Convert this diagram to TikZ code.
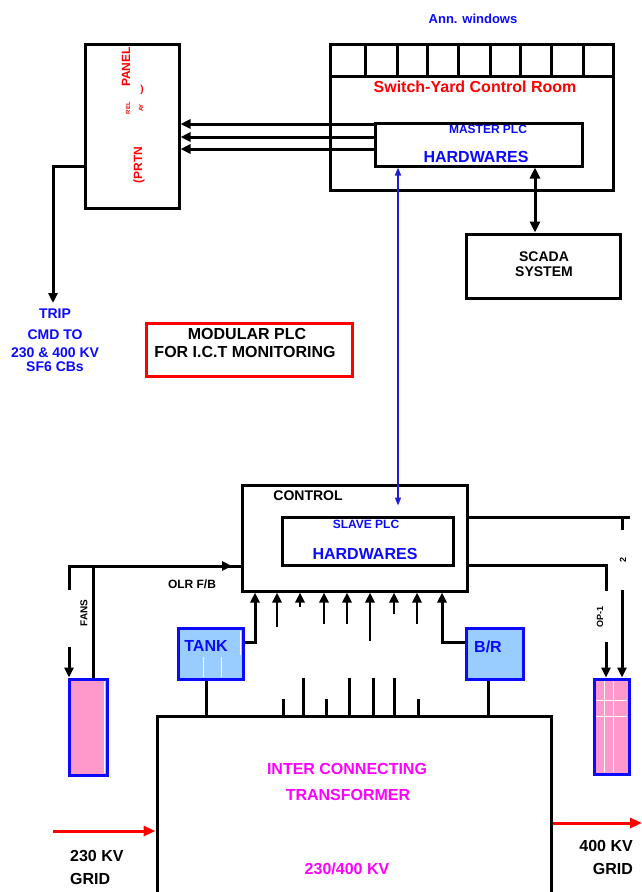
\documentclass[tikz,border=0pt]{standalone}
\usepackage{fontspec}
\setmainfont{Liberation Sans}
\usetikzlibrary{arrows.meta}
\definecolor{myred}{RGB}{255,0,0}
\definecolor{myblue}{RGB}{10,10,255}
\definecolor{mymag}{RGB}{255,0,255}
\definecolor{mypink}{RGB}{255,153,204}
\definecolor{mylblue}{RGB}{153,204,255}
\definecolor{arrblue}{RGB}{30,30,210}
\newcommand\myfs[1]{\fontsize{#1}{#1}\selectfont\bfseries}
\begin{document}
\begin{tikzpicture}[x=1pt,y=-1pt,
  box/.style={draw=black, line width=3pt, inner sep=0pt},
  bbox/.style={draw=myblue, line width=3pt, inner sep=0pt},
  wire/.style={line width=3pt},
  tip/.style={-{Triangle[length=10pt,width=9pt]}},
  dtip/.style={{Triangle[length=11pt,width=10pt]}-{Triangle[length=11pt,width=10pt]}},
  lbl/.style={inner sep=0pt},
]
\fill[white] (0,0) rectangle (642,892);
\useasboundingbox (0,0) rectangle (642,892);

\node[lbl, font=\myfs{13}, text=myblue] (ann) at (473,19) {Ann. windows};

% relay panel
\node[box, minimum width=94pt, minimum height=164pt] (panel) at (132,126) {};
\node[lbl, rotate=90, font=\myfs{12}, text=myred] (pnl) at (126,67) {PANEL};
\node[lbl, font=\myfs{10}, text=myred] (prn) at (142,90) {)};
\node[lbl, rotate=90, font=\myfs{6}, text=myred] (rel) at (128,108) {REL};
\node[lbl, rotate=90, font=\myfs{6}, text=myred] (ay) at (141,108) {AY};
\node[lbl, rotate=90, font=\myfs{12}, text=myred] (prtn) at (139,165) {(PRTN};

% switch-yard control room
\node[box, minimum width=283pt, minimum height=146pt] (sycr) at (471.5,117) {};
\draw[wire] (sycr.west |- 0,76) -- (sycr.east |- 0,76);
\foreach \x in {365,397,427,458,490,520,551,583}
  \draw[wire] (sycr.north -| \x,0) -- (\x,76);
\node[lbl, font=\myfs{16}, text=myred] (sytitle) at (475,87) {Switch-Yard Control Room};
\node[box, minimum width=207pt, minimum height=43pt] (master) at (478.5,144.5) {};
\node[lbl, font=\myfs{12}, text=myblue] (mplc) at (488,129) {MASTER PLC};
\node[lbl, font=\myfs{16}, text=myblue] (mhw) at (476,157) {HARDWARES};

\foreach \y in {124,137,149}
  \draw[wire, tip] (master.west |- 0,\y) -- (panel.east |- 0,\y);

% scada
\node[box, minimum width=154pt, minimum height=64pt] (scada) at (543,266) {};
\node[lbl, font=\myfs{14}] (sc1) at (544,257) {SCADA};
\node[lbl, font=\myfs{14}] (sc2) at (544,272) {SYSTEM};
\draw[wire, dtip] (master.south -| 535,0) -- (scada.north -| 535,0);

% trip
\coordinate (tripend) at (53,303);
\draw[wire, tip] (panel.west |- 0,166) -- (53,166) -- (tripend);
\node[lbl, font=\myfs{14}, text=myblue] (t1) at (55,314) {TRIP};
\node[lbl, font=\myfs{14}, text=myblue] (t2) at (55,335) {CMD TO};
\node[lbl, font=\myfs{14}, text=myblue] (t3) at (55,353) {230 \& 400 KV};
\node[lbl, font=\myfs{14}, text=myblue] (t4) at (55,367) {SF6 CBs};

% modular plc
\node[draw=myred, line width=3pt, inner sep=0pt, minimum width=206pt, minimum height=53pt] (modular) at (249,349.5) {};
\node[lbl, font=\myfs{16}] (m1) at (247,334) {MODULAR PLC};
\node[lbl, font=\myfs{16}] (m2) at (245,352) {FOR I.C.T MONITORING};

% control
\node[box, minimum width=225pt, minimum height=106pt] (control) at (354.5,538) {};
\node[lbl, font=\myfs{14}] (ctl) at (308,496) {CONTROL};
\node[box, minimum width=171pt, minimum height=48pt] (slave) at (367.5,541) {};
\node[lbl, font=\myfs{12}, text=myblue] (splc) at (366,524) {SLAVE PLC};
\node[lbl, font=\myfs{16}, text=myblue] (shw) at (365,554) {HARDWARES};

\draw[line width=1.5pt, arrblue, {Triangle[length=8pt,width=6pt]}-{Triangle[length=8pt,width=6pt]}]
  (master.south -| 398,0) -- ([yshift=10pt]slave.north -| 398,0);

% transformer
\node[box, minimum width=394pt, minimum height=220pt] (trafo) at (354,826) {};
\node[lbl, font=\myfs{16}, text=mymag] (tr1) at (347,769) {INTER CONNECTING};
\node[lbl, font=\myfs{16}, text=mymag] (tr2) at (348,795) {TRANSFORMER};
\node[lbl, font=\myfs{16}, text=mymag] (tr3) at (347,869) {230/400 KV};

% tank and B/R
\node[bbox, fill=mylblue, minimum width=65pt, minimum height=51pt] (tank) at (210.5,653.5) {};
\draw[white, line width=0.6pt] (203,657) -- (203,677) (221,657) -- (221,677) (240,631) -- (240,655);
\node[lbl, font=\myfs{16}, text=myblue] (tankl) at (206,646) {TANK};
\node[bbox, fill=mylblue, minimum width=57pt, minimum height=51pt] (br) at (494.5,653.5) {};
\node[lbl, font=\myfs{16}, text=myblue] (brl) at (488,647) {B/R};
\draw[wire, tip] (tank.east |- 0,642) -- (255,642) -- (control.south -| 255,0);
\draw[wire] (tank.south -| 206,0) -- (trafo.north -| 206,0);
\draw[wire, tip] (br.west |- 0,642) -- (442,642) -- (control.south -| 442,0);
\draw[wire] (br.south -| 488,0) -- (trafo.north -| 488,0);

\foreach \x/\y in {277/627,300/607,324/624,347/624,370/641,394/614,417/624}
  \draw[line width=2.5pt, tip] (\x,\y) -- (control.south -| \x,0);
\foreach \x/\y in {283/699,303/678,326/699,349/678,373/678,394/678,418/699}
  \draw[wire] (\x,\y) -- (trafo.north -| \x,0);

% left coolers
\node[bbox, fill=mypink, minimum width=38pt, minimum height=96pt] (lpink) at (88,727) {};
\draw[white, line width=0.8pt] (104.5,681) -- (104.5,773);
\draw[wire] (control.west |- 0,566) -- (69,566) -- (69,590);
\draw[wire, tip] (69,647) -- (lpink.north -| 69,0);
\node[lbl, rotate=90, font=\myfs{10}] (fans) at (84,613) {FANS};
\coordinate (olrend) at (232,566);
\draw[wire, tip] (lpink.north -| 93,0) -- (93,566) -- (olrend);
\node[lbl, font=\myfs{12}] (olr) at (192,584) {OLR F/B};

% right coolers
\node[bbox, fill=mypink, minimum width=35pt, minimum height=95pt] (rpink) at (611.5,726.5) {};
\draw[white, line width=0.8pt] (604,681) -- (604,772) (613,681) -- (613,772)
  (596,700) -- (627,700) (596,716) -- (627,716);
\draw[wire] (control.east |- 0,517) -- (630,517);
\draw[wire] (622,517) -- (622,530);
\draw[wire, tip] (622,590) -- (rpink.north -| 622,0);
\node[lbl, rotate=90, font=\myfs{9}] (two) at (623,560) {2};
\draw[wire] (control.east |- 0,565) -- (606,565) -- (606,591);
\draw[wire, tip] (606,642) -- (rpink.north -| 606,0);
\node[lbl, rotate=90, font=\myfs{9}] (op1) at (600,617) {OP-1};

% grid feeds
\draw[line width=3pt, myred, -{Triangle[length=12pt,width=10pt]}] (53,831) -- (trafo.west |- 0,831);
\draw[line width=3pt, myred, -{Triangle[length=12pt,width=10pt]}] (trafo.east |- 0,823) -- (642,823);
\node[lbl, font=\myfs{16}, anchor=west] (g1) at (70,856) {230 KV};
\node[lbl, font=\myfs{16}, anchor=west] (g2) at (70,879) {GRID};
\node[lbl, font=\myfs{16}, anchor=east] (g3) at (633,846) {400 KV};
\node[lbl, font=\myfs{16}, anchor=east] (g4) at (633,869) {GRID};
\end{tikzpicture}
\end{document}
